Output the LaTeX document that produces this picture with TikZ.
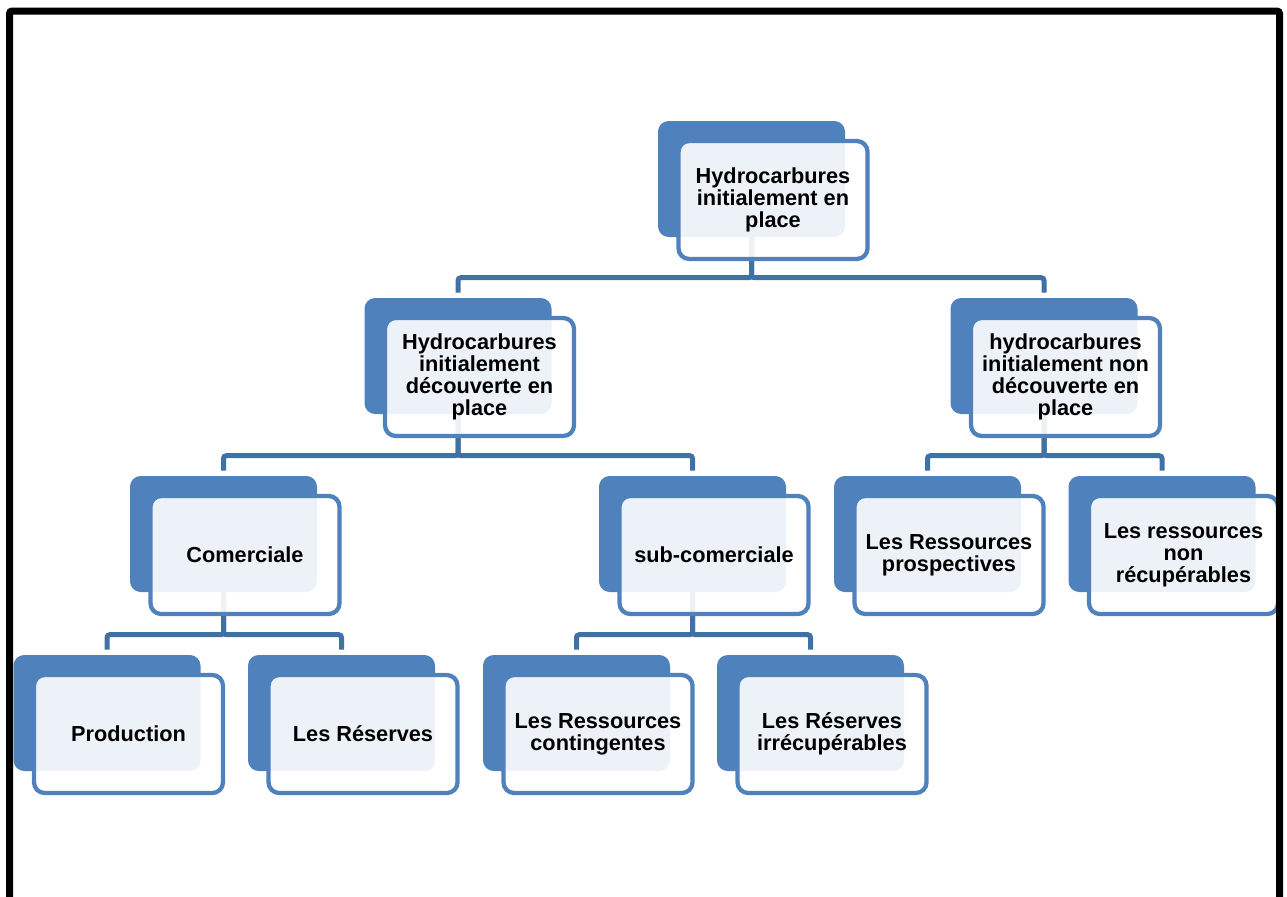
\documentclass[tikz,border=0pt]{standalone}
\usepackage{fontspec}
\setmainfont{Liberation Sans}
\usetikzlibrary{calc}
\definecolor{boxblue}{RGB}{79,129,189}
\definecolor{lineblue}{RGB}{65,113,164}
\tikzset{
  backbox/.style={fill=boxblue, draw=none, rounded corners=8pt, minimum width=140.25pt, minimum height=87pt, inner sep=0pt},
  frontbox/.style={draw=boxblue, line width=3.2pt, fill=white, fill opacity=0.9, draw opacity=1, text opacity=1,
    rounded corners=8pt, minimum width=141.75pt, minimum height=88.5pt, inner sep=0pt, align=center,
    font=\bfseries\fontsize{16.3}{16.6}\selectfont, text=black},
  conn/.style={draw=lineblue, line width=3.75pt, rounded corners=2pt},
}
\newcommand\frontat[3]{\node[frontbox] (f#1) at ($(b#1)+(21.5,21)$) {#2#3};}
\newcommand\linkto[2]{\draw[conn] (b#1.south) |- ($(b#2.north)+(0,-20)$) -- ($(b#2.north)+(0,-5)$);}
\begin{document}
\begin{tikzpicture}[x=0.75pt,y=-0.75pt]
\useasboundingbox (0,0) rectangle (1287,896);
% back boxes
\node[backbox] (bT) at (751.5,179) {};
\node[backbox] (bLa) at (458,356) {};
\node[backbox] (bLb) at (1044,356) {};
\node[backbox] (bMa) at (223.5,534) {};
\node[backbox] (bMb) at (692.5,534) {};
\node[backbox] (bMc) at (927.5,534) {};
\node[backbox] (bMd) at (1162,534) {};
\node[backbox] (bNa) at (107,713) {};
\node[backbox] (bNb) at (341.5,713) {};
\node[backbox] (bNc) at (576.5,713) {};
\node[backbox] (bNd) at (810.5,713) {};
% connectors
\linkto{T}{La}
\linkto{T}{Lb}
\linkto{La}{Ma}
\linkto{La}{Mb}
\linkto{Lb}{Mc}
\linkto{Lb}{Md}
\linkto{Ma}{Na}
\linkto{Ma}{Nb}
\linkto{Mb}{Nc}
\linkto{Mb}{Nd}
% front boxes
\frontat{T}{Hydrocarbures\\initialement en\\place}{}
\frontat{La}{Hydrocarbures\\initialement\\découverte en\\place}{}
\frontat{Lb}{hydrocarbures\\initialement non\\découverte en\\place}{}
\frontat{Ma}{Comerciale}{}
\frontat{Mb}{sub-comerciale}{}
\frontat{Mc}{Les Ressources\\prospectives}{}
\frontat{Md}{Les ressources\\non\\récupérables}{}
\frontat{Na}{Production}{}
\frontat{Nb}{Les Réserves}{}
\frontat{Nc}{Les Ressources\\contingentes}{}
\frontat{Nd}{Les Réserves\\irrécupérables}{}
% outer frame
\draw[line width=5.25pt, rounded corners=2pt] (9.5,930) -- (9.5,11) -- (1279.5,11) -- (1279.5,930);
\end{tikzpicture}
\end{document}
